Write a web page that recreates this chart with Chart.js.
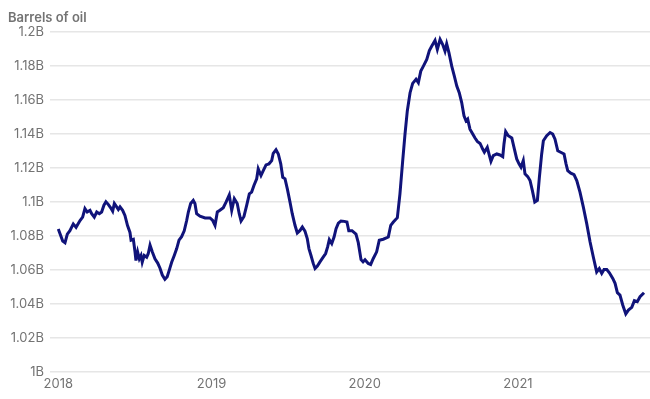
<!DOCTYPE html>
<html>
<head>
<meta charset="utf-8">
<script src="https://cdn.jsdelivr.net/npm/chart.js@4"></script>
<style>
  html, body { margin: 0; padding: 0; background: #fff; }
  #wrap { width: 650px; height: 399px; position: relative; }
</style>
</head>
<body>
<div id="wrap"><canvas id="oilChart"></canvas></div>
<script>
// decimal year of each weekly reading
const years = [
  2018.000, 2018.029, 2018.044, 2018.059, 2018.076, 2018.098, 2018.116, 2018.142, 2018.159, 2018.174,
  2018.189, 2018.207, 2018.218, 2018.235, 2018.251, 2018.268, 2018.283, 2018.298, 2018.311, 2018.326,
  2018.342, 2018.355, 2018.366, 2018.381, 2018.392, 2018.403, 2018.420, 2018.435, 2018.452, 2018.468,
  2018.475, 2018.490, 2018.501, 2018.507, 2018.518, 2018.529, 2018.540, 2018.548, 2018.561, 2018.577,
  2018.587, 2018.599, 2018.614, 2018.631, 2018.649, 2018.664, 2018.679, 2018.696, 2018.711, 2018.725,
  2018.740, 2018.757, 2018.773, 2018.788, 2018.805, 2018.822, 2018.838, 2018.849, 2018.864, 2018.881,
  2018.892, 2018.903, 2018.925, 2018.958, 2018.990, 2019.008, 2019.023, 2019.038, 2019.055, 2019.077,
  2019.095, 2019.116, 2019.132, 2019.149, 2019.168, 2019.181, 2019.193, 2019.212, 2019.230, 2019.247,
  2019.262, 2019.277, 2019.295, 2019.305, 2019.323, 2019.338, 2019.356, 2019.375, 2019.393, 2019.403,
  2019.421, 2019.436, 2019.452, 2019.465, 2019.480, 2019.495, 2019.512, 2019.527, 2019.545, 2019.560,
  2019.578, 2019.593, 2019.610, 2019.625, 2019.636, 2019.649, 2019.664, 2019.676, 2019.691, 2019.708,
  2019.730, 2019.745, 2019.758, 2019.769, 2019.785, 2019.800, 2019.813, 2019.828, 2019.845, 2019.867,
  2019.884, 2019.896, 2019.917, 2019.943, 2019.958, 2019.976, 2019.989, 2020.002, 2020.023, 2020.039,
  2020.056, 2020.078, 2020.095, 2020.121, 2020.154, 2020.170, 2020.187, 2020.213, 2020.230, 2020.248,
  2020.263, 2020.278, 2020.296, 2020.313, 2020.335, 2020.350, 2020.366, 2020.383, 2020.405, 2020.422,
  2020.437, 2020.459, 2020.474, 2020.492, 2020.509, 2020.524, 2020.535, 2020.550, 2020.568, 2020.585,
  2020.601, 2020.617, 2020.633, 2020.648, 2020.661, 2020.672, 2020.687, 2020.705, 2020.720, 2020.735,
  2020.753, 2020.770, 2020.781, 2020.800, 2020.811, 2020.824, 2020.839, 2020.862, 2020.883, 2020.901,
  2020.909, 2020.920, 2020.937, 2020.960, 2020.977, 2020.992, 2021.007, 2021.020, 2021.035, 2021.046,
  2021.064, 2021.079, 2021.094, 2021.110, 2021.127, 2021.140, 2021.155, 2021.166, 2021.188, 2021.210,
  2021.227, 2021.242, 2021.260, 2021.279, 2021.301, 2021.314, 2021.325, 2021.345, 2021.366, 2021.384,
  2021.405, 2021.427, 2021.449, 2021.471, 2021.492, 2021.514, 2021.531, 2021.547, 2021.562, 2021.580,
  2021.597, 2021.619, 2021.634, 2021.649, 2021.666, 2021.684, 2021.704, 2021.721, 2021.743, 2021.760,
  2021.779, 2021.797, 2021.823
];

// barrels of oil, in billions
const barrels = [
  1.084, 1.077, 1.076, 1.081, 1.083, 1.087, 1.085, 1.089, 1.091, 1.096,
  1.094, 1.095, 1.093, 1.091, 1.094, 1.093, 1.094, 1.098, 1.100, 1.0985,
  1.0965, 1.0945, 1.099, 1.097, 1.0955, 1.097, 1.095, 1.092, 1.086, 1.082,
  1.0775, 1.078, 1.0705, 1.0655, 1.0705, 1.0665, 1.0685, 1.0645, 1.0685, 1.0675,
  1.0695, 1.0745, 1.0705, 1.0665, 1.064, 1.061, 1.057, 1.0545, 1.056, 1.060,
  1.0645, 1.0685, 1.0725, 1.0775, 1.0795, 1.083, 1.089, 1.094, 1.099, 1.1008,
  1.099, 1.093, 1.0915, 1.0905, 1.0905, 1.089, 1.0862, 1.094, 1.095, 1.0965,
  1.0998, 1.104, 1.095, 1.1018, 1.099, 1.093, 1.0887, 1.0914, 1.098, 1.1047,
  1.1057, 1.1096, 1.1135, 1.1194, 1.1154, 1.1183, 1.1217, 1.1223, 1.1242, 1.1285,
  1.1306, 1.1281, 1.1223, 1.1144, 1.1135, 1.1076, 1.100, 1.093, 1.0862, 1.0817,
  1.0832, 1.0852, 1.0828, 1.0784, 1.0725, 1.0686, 1.0638, 1.0608, 1.0622, 1.0647,
  1.0676, 1.0696, 1.0735, 1.0778, 1.0755, 1.0793, 1.0842, 1.0875, 1.0887, 1.0885,
  1.0881, 1.083, 1.083, 1.081, 1.076, 1.066, 1.0647, 1.066, 1.0638, 1.0632,
  1.0667, 1.0706, 1.0774, 1.078, 1.0793, 1.0862, 1.0881, 1.0907, 1.1047, 1.1242,
  1.1398, 1.1534, 1.1641, 1.1696, 1.172, 1.170, 1.1768, 1.1797, 1.1836, 1.1889,
  1.1914, 1.1948, 1.1895, 1.1954, 1.1924, 1.1885, 1.1928, 1.1875, 1.1797, 1.1739,
  1.168, 1.1641, 1.1583, 1.1505, 1.1476, 1.1486, 1.1427, 1.1398, 1.1375, 1.1355,
  1.1343, 1.131, 1.1291, 1.132, 1.1281, 1.1238, 1.1271, 1.1281, 1.1275, 1.1265,
  1.134, 1.1413, 1.1388, 1.1375, 1.131, 1.1252, 1.1223, 1.1203, 1.1242, 1.1164,
  1.1148, 1.1125, 1.1067, 1.0998, 1.1008, 1.1144, 1.1281, 1.1359, 1.1388, 1.1407,
  1.1398, 1.1368, 1.130, 1.1291, 1.1281, 1.1223, 1.1183, 1.1168, 1.116, 1.1125,
  1.1057, 1.0969, 1.0872, 1.0764, 1.0676, 1.0588, 1.0608, 1.0579, 1.0602, 1.0602,
  1.0583, 1.055, 1.0521, 1.0466, 1.0452, 1.0394, 1.0341, 1.0364, 1.038, 1.0419,
  1.0413, 1.0442, 1.0466
];

const yearTicks = [2018, 2019, 2020, 2021];
const axisTitle = 'Barrels of oil';

const points = years.map((yr, i) => ({ x: yr, y: barrels[i] }));
const textGrey = '#737373';
const font = { family: 'Inter, "Noto Sans", sans-serif', size: 13 };

new Chart(document.getElementById('oilChart').getContext('2d'), {
  type: 'line',
  data: {
    datasets: [{
      data: points,
      borderColor: '#10137a',
      borderWidth: 3,
      pointRadius: 0,
      tension: 0,
      fill: false
    }]
  },
  options: {
    responsive: true,
    maintainAspectRatio: false,
    animation: false,
    layout: { padding: { left: 8, right: 0, top: 0, bottom: 6 } },
    scales: {
      x: {
        type: 'linear',
        min: 2017.946,
        max: 2021.862,
        afterBuildTicks: function (scale) {
          scale.ticks = yearTicks.map(v => ({ value: v }));
        },
        afterFit: function (scale) { scale.height = 21; },
        ticks: {
          color: textGrey,
          font: font,
          padding: 4,
          maxRotation: 0,
          callback: v => String(v)
        },
        grid: { display: false, drawTicks: false },
        border: { display: false }
      },
      y: {
        min: 1,
        max: 1.2,
        afterFit: function (scale) { scale.width = 42; },
        ticks: {
          stepSize: 0.02,
          color: textGrey,
          font: font,
          padding: 6,
          callback: v => parseFloat(v.toFixed(2)) + 'B'
        },
        grid: { color: '#e6e6e6', lineWidth: 1.5, drawTicks: false },
        border: { display: false }
      }
    },
    plugins: {
      legend: { display: false },
      tooltip: { enabled: false },
      title: {
        display: true,
        text: axisTitle,
        align: 'start',
        color: textGrey,
        font: { family: font.family, size: 13, weight: '600' },
        padding: { top: 10, bottom: 6 }
      }
    }
  }
});
</script>
</body>
</html>
